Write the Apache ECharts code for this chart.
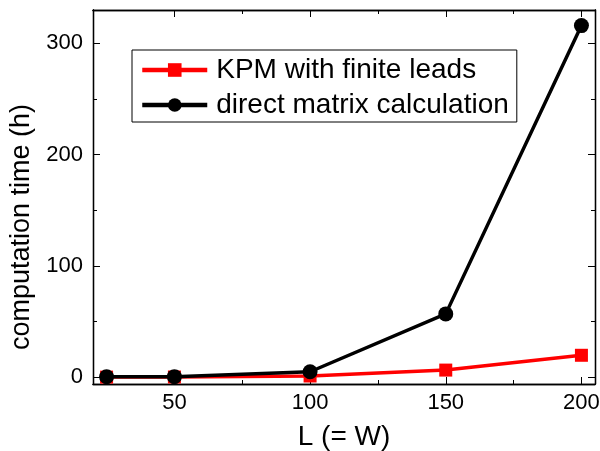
<!DOCTYPE html>
<html>
<head>
<meta charset="utf-8">
<script src="https://cdn.jsdelivr.net/npm/echarts@6/dist/echarts.min.js"></script>
<style>
  html, body { margin: 0; padding: 0; background: #fff; }
  #main { width: 600px; height: 451px; }
</style>
</head>
<body>
<div id="main"></div>
<script>
const sizes = [25, 50, 100, 150, 200]
const kpmTime = [0.2, 0.3, 1.2, 6.5, 19.8]
const directTime = [0.5, 0.6, 5, 57, 316]
const xMajor = [50, 100, 150, 200]
const xMinor = [75, 125, 175]
const yMajor = [0, 100, 200, 300]
const yMinor = [50, 150, 250]

const font = '"Liberation Sans", Arial, sans-serif'

function toPairs(xs, ys) {
  return xs.map((x, i) => [x, ys[i]])
}

function xAx(pos, ticks, len, labels, extra) {
  return Object.assign({
    type: 'value',
    position: pos,
    min: 20,
    max: 205,
    axisLine: { show: true, onZero: false, lineStyle: { color: '#000', width: 1.3 } },
    axisTick: { show: true, inside: true, length: len, customValues: ticks, lineStyle: { color: '#000', width: 1 } },
    axisLabel: labels ? { show: true, customValues: ticks, color: '#000', fontSize: 22, fontFamily: font, margin: 8 } : { show: false },
    splitLine: { show: false }
  }, extra || {})
}

function yAx(pos, ticks, len, labels, extra) {
  return Object.assign({
    type: 'value',
    position: pos,
    min: -6,
    max: 330,
    axisLine: { show: true, onZero: false, lineStyle: { color: '#000', width: 1.3 } },
    axisTick: { show: true, inside: true, length: len, customValues: ticks, lineStyle: { color: '#000', width: 1 } },
    axisLabel: labels ? { show: true, customValues: ticks, color: '#000', fontSize: 22, fontFamily: font, margin: 10 } : { show: false },
    splitLine: { show: false }
  }, extra || {})
}

const myChart = echarts.init(document.getElementById('main'))
myChart.setOption({
  animation: false,
  grid: { left: 93, right: 5, top: 10, bottom: 67, containLabel: false, outerBoundsMode: 'none' },
  xAxis: [
    xAx('bottom', xMajor, 7, true, {
      name: 'L (= W)',
      nameLocation: 'middle',
      nameGap: 39,
      nameTextStyle: { color: '#000', fontSize: 28, fontFamily: font }
    }),
    xAx('bottom', xMinor, 4, false),
    xAx('top', xMajor, 7, false),
    xAx('top', xMinor, 4, false)
  ],
  yAxis: [
    yAx('left', yMajor, 7, true, {
      name: 'computation time (h)',
      nameLocation: 'middle',
      nameGap: 58,
      nameTextStyle: { color: '#000', fontSize: 27, fontFamily: font, padding: [0, 60, 0, 0] }
    }),
    yAx('left', yMinor, 4, false),
    yAx('right', yMajor, 7, false),
    yAx('right', yMinor, 4, false)
  ],
  legend: {
    orient: 'vertical',
    left: 132,
    top: 50,
    padding: [5, 8, 2, 8],
    itemGap: 5,
    itemWidth: 65,
    itemHeight: 17,
    borderColor: '#000',
    borderWidth: 1,
    lineStyle: { width: 4.5 },
    textStyle: { color: '#000', fontSize: 28, fontFamily: font, lineHeight: 30, padding: [0, 0, 0, 4] },
    data: ['KPM with finite leads', 'direct matrix calculation']
  },
  series: [
    {
      name: 'KPM with finite leads',
      type: 'line',
      data: toPairs(sizes, kpmTime),
      symbol: 'rect',
      symbolSize: 13,
      itemStyle: { color: '#ff0000' },
      lineStyle: { color: '#ff0000', width: 3.5 }
    },
    {
      name: 'direct matrix calculation',
      type: 'line',
      data: toPairs(sizes, directTime),
      symbol: 'circle',
      symbolSize: 15,
      itemStyle: { color: '#000' },
      lineStyle: { color: '#000', width: 3.5 }
    }
  ]
})
</script>
</body>
</html>
